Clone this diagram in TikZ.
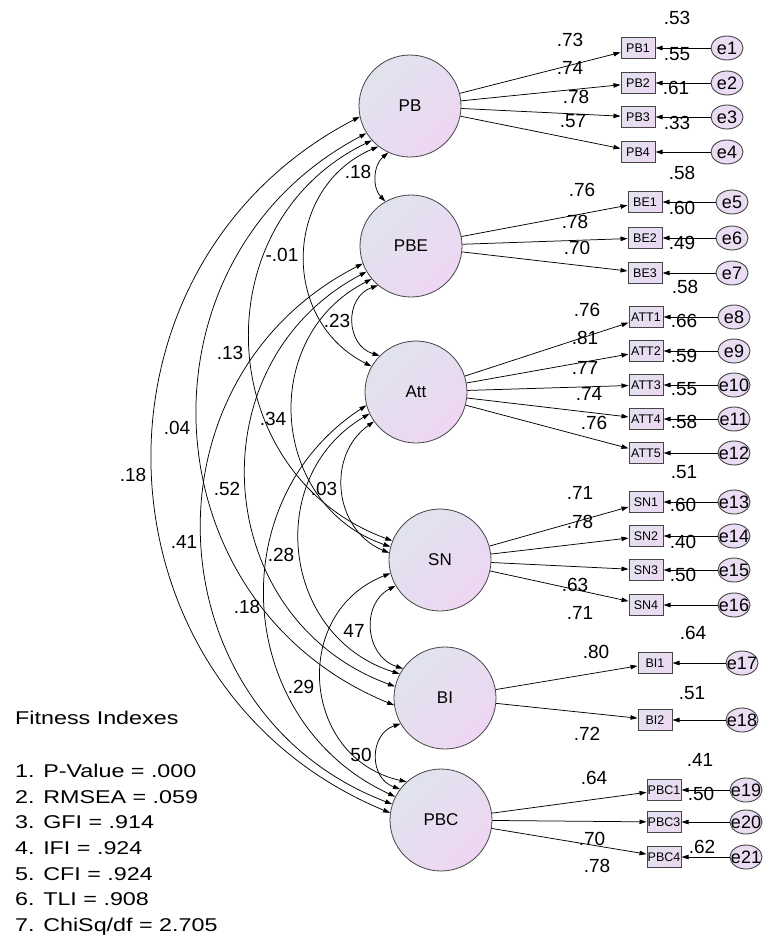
\documentclass[tikz,border=0pt]{standalone}
\usepackage{fontspec}
\setmainfont{Liberation Sans}
\newfontfamily\fitfont[FakeStretch=1.26]{Liberation Sans}
\usetikzlibrary{arrows.meta,shapes.geometric}

\definecolor{latA}{HTML}{E0E3EE}
\definecolor{latB}{HTML}{EED6F2}
\definecolor{boxA}{HTML}{E3E1EF}
\definecolor{boxB}{HTML}{EBD8F1}
\definecolor{errFill}{HTML}{EADCF2}
\definecolor{edge}{HTML}{454545}

\tikzset{
  amos/.tip={Triangle[length=7pt,width=4.5pt]},
  latent/.style={circle, draw=edge, line width=0.8pt, minimum size=102pt,
    inner sep=0pt, top color=latA, bottom color=latB, shading angle=45,
    font=\fontsize{17}{20}\selectfont},
  ind/.style={rectangle, draw=edge, line width=1pt, minimum width=34pt,
    minimum height=21pt, inner sep=0pt, top color=boxA, bottom color=boxB,
    shading angle=45, font=\fontsize{12.5}{14}\selectfont},
  err/.style={ellipse, draw=edge, line width=0.9pt, minimum width=32pt,
    minimum height=24pt, inner sep=0pt, fill=errFill,
    font=\fontsize{18}{20}\selectfont},
  load/.style={-amos, line width=0.75pt},
  cov/.style={amos-amos, line width=0.75pt},
  val/.style={inner sep=0pt, font=\fontsize{19}{22}\selectfont},
  fit/.style={inner sep=0pt, anchor=base west, font=\fitfont\fontsize{18.5}{22}\selectfont}
}

% error-term label that does not widen its ellipse
\newcommand{\errlab}[1]{\makebox[0pt]{#1}}

\begin{document}
\begin{tikzpicture}[x=1pt,y=-1pt]
\fill[white] (0,0) rectangle (763,940);
\useasboundingbox (0,0) rectangle (763,940);

% latent variables
\node[latent] (PB)  at (410,106) {PB};
\node[latent] (PBE) at (411,246) {PBE};
\node[latent] (Att) at (416,392) {Att};
\node[latent] (SN)  at (440,560) {SN};
\node[latent] (BI)  at (445,698) {BI};
\node[latent] (PBC) at (441,820) {PBC};

% indicators with their error terms
\foreach \lab/\e/\y in {PB1/e1/48, PB2/e2/83, PB3/e3/117, PB4/e4/152} {
  \node[ind] (\lab) at (638,\y) {\lab};
  \node[err] (\e) at (727,\y) {\errlab{\e}};
  \draw[load] (PB) -- (\lab);
  \draw[load] (\e) -- (\lab);
}
\foreach \lab/\e/\y in {BE1/e5/202, BE2/e6/238, BE3/e7/273} {
  \node[ind] (\lab) at (645,\y) {\lab};
  \node[err] (\e) at (732,\y) {\errlab{\e}};
  \draw[load] (PBE) -- (\lab);
  \draw[load] (\e) -- (\lab);
}
\foreach \lab/\e/\y in {ATT1/e8/317, ATT2/e9/351, ATT3/e10/385, ATT4/e11/419, ATT5/e12/453} {
  \node[ind] (\lab) at (646,\y) {\lab};
  \node[err] (\e) at (734,\y) {\errlab{\e}};
  \draw[load] (Att) -- (\lab);
  \draw[load] (\e) -- (\lab);
}
\foreach \lab/\e/\y in {SN1/e13/502, SN2/e14/536, SN3/e15/570, SN4/e16/605} {
  \node[ind] (\lab) at (646,\y) {\lab};
  \node[err] (\e) at (734,\y) {\errlab{\e}};
  \draw[load] (SN) -- (\lab);
  \draw[load] (\e) -- (\lab);
}
\foreach \lab/\e/\y in {BI1/e17/663, BI2/e18/720} {
  \node[ind] (\lab) at (655,\y) {\lab};
  \node[err] (\e) at (742,\y) {\errlab{\e}};
  \draw[load] (BI) -- (\lab);
  \draw[load] (\e) -- (\lab);
}
\foreach \lab/\e/\y in {PBC1/e19/790, PBC3/e20/822, PBC4/e21/857} {
  \node[ind] (\lab) at (664,\y) {\lab};
  \node[err] (\e) at (746,\y) {\errlab{\e}};
  \draw[load] (PBC) -- (\lab);
  \draw[load] (\e) -- (\lab);
}

% covariances between the latent variables
\draw[cov] (PB.245)  to[bend right=47, looseness=1.01] (PBE.120);
\draw[cov] (PB.232)  to[bend right=65, looseness=1.20] (Att.150);
\draw[cov] (PB.222)  to[bend right=67, looseness=1.22] (SN.158);
\draw[cov] (PB.212)  to[bend right=65, looseness=1.20] (BI.188);
\draw[cov] (PB.192)  to[bend right=65, looseness=1.20] (PBC.172);
\draw[cov] (PBE.230) to[bend right=72, looseness=1.30] (Att.135);
\draw[cov] (PBE.220) to[bend right=67, looseness=1.22] (SN.165);
\draw[cov] (PBE.210) to[bend right=66, looseness=1.21] (BI.167);
\draw[cov] (PBE.200) to[bend right=66, looseness=1.21] (PBC.162);
\draw[cov] (Att.215) to[bend right=61, looseness=1.15] (SN.172);
\draw[cov] (Att.205) to[bend right=66, looseness=1.21] (BI.152);
\draw[cov] (Att.195) to[bend right=61, looseness=1.15] (PBC.153);
\draw[cov] (SN.210)  to[bend right=67, looseness=1.22] (BI.145);
\draw[cov] (SN.195)  to[bend right=73, looseness=1.32] (PBC.132);
\draw[cov] (BI.210)  to[bend right=71, looseness=1.29] (PBC.143);

% covariance estimates
\foreach \t/\x/\y [count=\i] in {
  .18/358/172, -.01/282/255, .13/230/353, .04/177/428, .18/133/475,
  .23/337/321, .34/273/419, .52/227/489, .41/184/542,
  .03/324/489, .28/281/555, .18/247/607,
  47/354/631, .29/301/687, 50/361/755} {
  \node[val] (c\i) at (\x,\y) {\t};
}

% loadings and squared multiple correlations
\foreach \t/\x/\y [count=\i] in {
  .53/677/18, .73/570/40, .55/677/54, .74/570/68, .61/676/88, .78/576/97,
  .33/677/123, .57/573/121, .58/682/173,
  .76/582/190, .60/682/208, .78/575/222, .49/682/243, .70/577/248, .58/685/287,
  .76/587/310, .66/684/321, .81/585/338, .59/684/356, .77/585/368, .55/684/389,
  .74/589/394, .58/684/422, .76/594/423,
  .51/684/472, .71/580/493, .60/683/505, .78/580/522, .40/683/542, .50/683/575,
  .63/575/585, .71/580/613,
  .64/693/633, .80/596/652, .51/692/693, .72/587/734,
  .41/700/760, .64/594/778, .50/701/794, .70/592/839, .62/702/847, .78/597/866} {
  \node[val] (v\i) at (\x,\y) {\t};
}

% fit indices
\node[fit] (fit0) at (15,724) {Fitness Indexes};
\node[fit] (fit1) at (15,777) {1. P-Value = .000};
\node[fit] (fit2) at (15,803) {2. RMSEA = .059};
\node[fit] (fit3) at (15,828) {3. GFI = .914};
\node[fit] (fit4) at (15,854) {4. IFI = .924};
\node[fit] (fit5) at (15,880) {5. CFI = .924};
\node[fit] (fit6) at (15,905) {6. TLI = .908};
\node[fit] (fit7) at (15,931) {7. ChiSq/df = 2.705};
\end{tikzpicture}
\end{document}
